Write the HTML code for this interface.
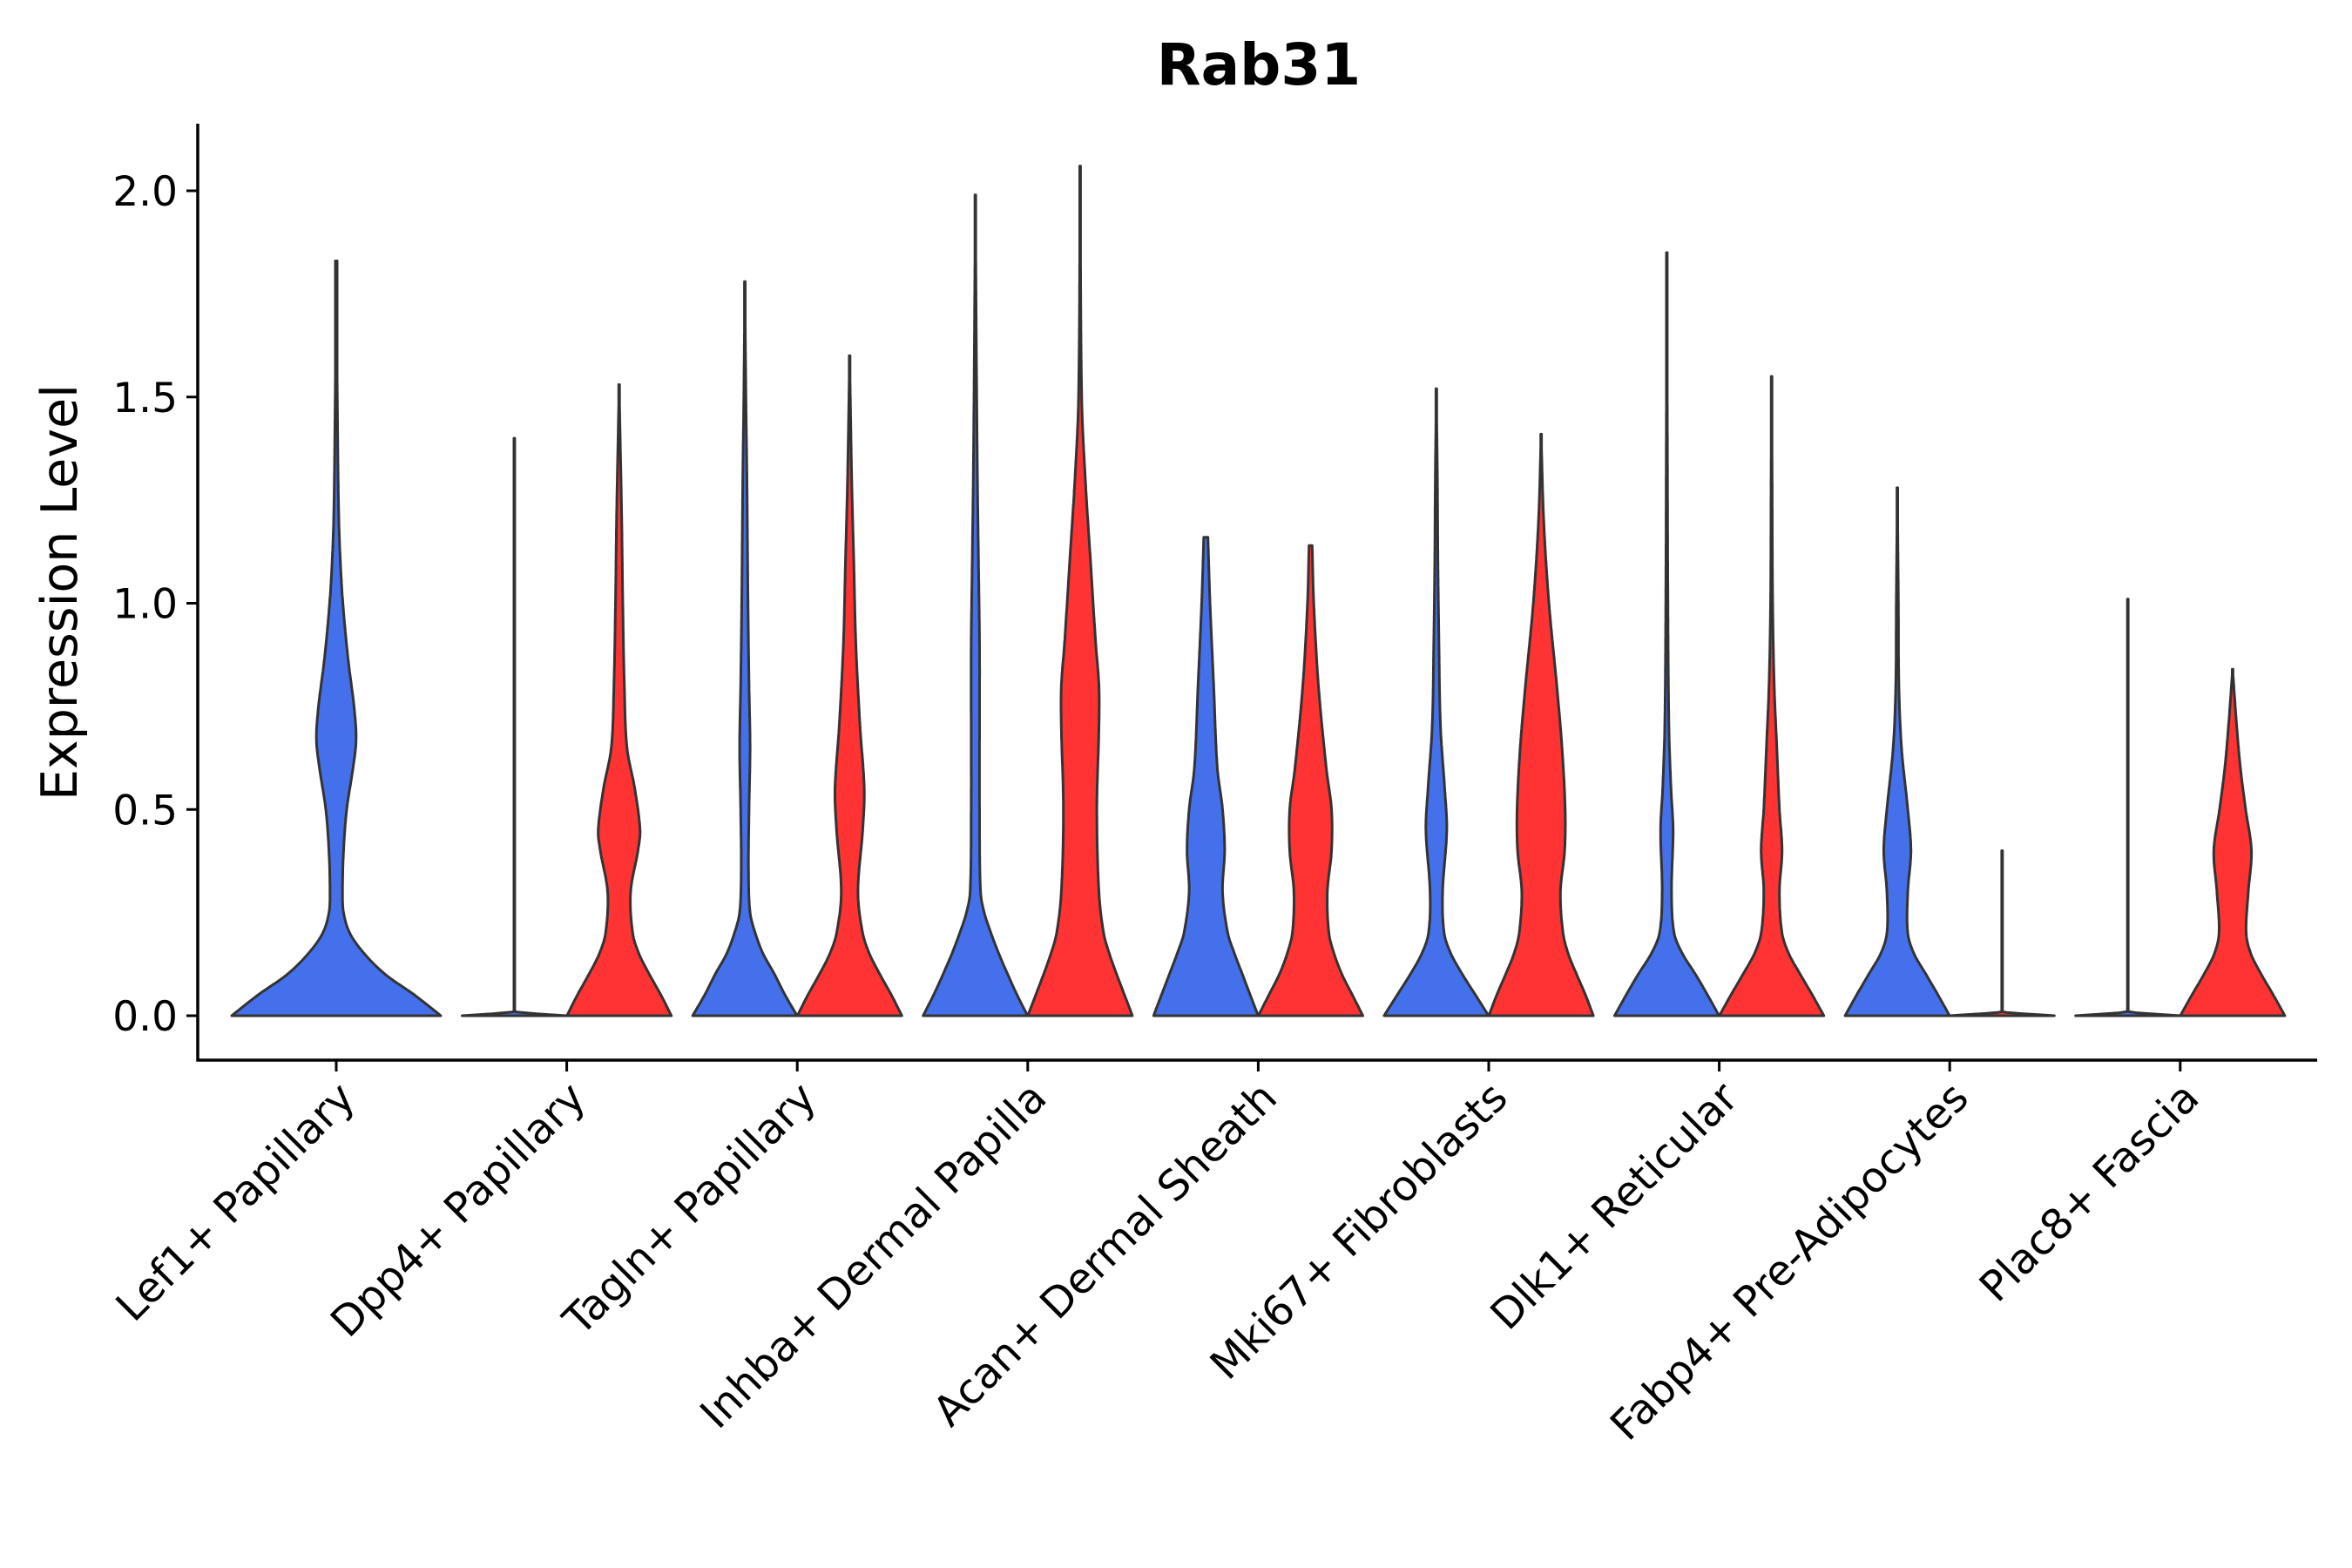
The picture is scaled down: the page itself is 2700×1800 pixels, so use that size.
<!DOCTYPE html>
<html><head><meta charset="utf-8"><style>
html,body{margin:0;padding:0;background:#fff}
svg{display:block;font-family:"DejaVu Sans","Liberation Sans",sans-serif}
</style></head><body>
<svg id="chart" width="2700" height="1800" viewBox="0 0 2700 1800">
<text x="1445" y="97" text-anchor="middle" font-size="66" font-weight="bold">Rab31</text>
<text transform="translate(88,680) rotate(-90)" text-anchor="middle" font-size="57">Expression Level</text>
<g id="plot"></g>
</svg>
<script>
const categories = ["Lef1+ Papillary","Dpp4+ Papillary","Tagln+ Papillary","Inhba+ Dermal Papilla","Acan+ Dermal Sheath","Mki67+ Fibroblasts","Dlk1+ Reticular","Fabp4+ Pre-Adipocytes","Plac8+ Fascia"];
const yTicks = [0, 0.5, 1.0, 1.5, 2.0];
const yTickLabels = ["0.0","0.5","1.0","1.5","2.0"];
// density profiles: [expression, relative width]; null = group absent
const blueProfiles = [
 [[0,1],[0.05,0.75],[0.1,0.47],[0.15,0.27],[0.2,0.13],[0.25,0.07],[0.3,0.06],[0.4,0.07],[0.5,0.1],[0.6,0.16],[0.67,0.19],[0.75,0.17],[0.85,0.12],[0.95,0.08],[1.05,0.05],[1.2,0.025],[1.5,0.01],[1.83,0]],
 [[0,1],[0.01,0.01],[1.4,0]],
 [[0,1],[0.05,0.77],[0.1,0.57],[0.15,0.35],[0.2,0.2],[0.25,0.1],[0.35,0.07],[0.5,0.08],[0.65,0.1],[0.8,0.08],[1.0,0.06],[1.3,0.04],[1.5,0.02],[1.78,0]],
 [[0,1],[0.05,0.8],[0.1,0.62],[0.15,0.45],[0.2,0.3],[0.25,0.17],[0.3,0.1],[0.5,0.08],[0.7,0.08],[0.9,0.08],[1.1,0.06],[1.3,0.04],[1.6,0.02],[1.99,0]],
 [[0,1],[0.05,0.85],[0.1,0.7],[0.15,0.55],[0.2,0.42],[0.3,0.32],[0.4,0.36],[0.5,0.32],[0.6,0.22],[0.8,0.15],[1.0,0.08],[1.16,0.04]],
 [[0,1],[0.05,0.75],[0.1,0.5],[0.15,0.28],[0.2,0.15],[0.3,0.12],[0.45,0.2],[0.55,0.16],[0.7,0.08],[0.9,0.05],[1.1,0.03],[1.3,0.02],[1.52,0]],
 [[0,1],[0.05,0.78],[0.1,0.55],[0.15,0.3],[0.2,0.14],[0.3,0.09],[0.45,0.12],[0.55,0.08],[0.7,0.04],[1.0,0.02],[1.4,0.01],[1.85,0]],
 [[0,1],[0.05,0.78],[0.1,0.55],[0.15,0.32],[0.2,0.2],[0.3,0.2],[0.4,0.26],[0.5,0.2],[0.65,0.08],[0.8,0.03],[1.0,0.02],[1.28,0]],
 [[0,1],[0.01,0.01],[1.01,0]]
];
const redProfiles = [
 null,
 [[0,1],[0.05,0.8],[0.1,0.58],[0.15,0.38],[0.2,0.26],[0.3,0.22],[0.4,0.36],[0.45,0.4],[0.55,0.3],[0.65,0.15],[0.8,0.1],[1.0,0.07],[1.2,0.05],[1.4,0.02],[1.53,0]],
 [[0,1],[0.05,0.8],[0.1,0.58],[0.15,0.38],[0.2,0.25],[0.3,0.16],[0.45,0.25],[0.55,0.28],[0.7,0.2],[0.9,0.12],[1.1,0.08],[1.3,0.04],[1.6,0]],
 [[0,1],[0.05,0.85],[0.1,0.7],[0.15,0.56],[0.2,0.45],[0.3,0.36],[0.5,0.32],[0.7,0.36],[0.8,0.36],[0.9,0.3],[1.1,0.2],[1.3,0.1],[1.5,0.03],[2.06,0]],
 [[0,1],[0.05,0.8],[0.1,0.6],[0.15,0.45],[0.2,0.35],[0.3,0.32],[0.4,0.4],[0.5,0.4],[0.6,0.3],[0.8,0.15],[1.0,0.06],[1.14,0.03]],
 [[0,1],[0.05,0.85],[0.1,0.68],[0.15,0.52],[0.2,0.42],[0.3,0.37],[0.4,0.45],[0.5,0.46],[0.65,0.4],[0.8,0.3],[1.0,0.15],[1.2,0.05],[1.41,0]],
 [[0,1],[0.05,0.78],[0.1,0.55],[0.15,0.33],[0.2,0.2],[0.3,0.15],[0.4,0.2],[0.5,0.15],[0.65,0.1],[0.8,0.05],[1.0,0.02],[1.3,0.01],[1.55,0]],
 [[0,1],[0.01,0.01],[0.4,0]],
 [[0,1],[0.05,0.78],[0.1,0.55],[0.15,0.35],[0.2,0.26],[0.3,0.3],[0.4,0.36],[0.5,0.25],[0.6,0.15],[0.7,0.08],[0.84,0]]
];

const NS='http://www.w3.org/2000/svg';
const plot=document.getElementById('plot');
const X0=227, X1=2660, Y0=1166, Y2=219, AXB=1217;
const yScale=v=>Y0+(Y2-Y0)*v/2;
const first=386, step=264.6;
const xScale=i=>first+i*step;
const HW=60;

function mk(tag,attrs){const e=document.createElementNS(NS,tag);for(const k in attrs)e.setAttribute(k,attrs[k]);plot.appendChild(e);return e;}

// Catmull-Rom interpolation of width vs expression
function interp(pts){
 const n=pts.length;
 return x=>{
  let i=0;while(i<n-2&&x>pts[i+1][0])i++;
  const p0=pts[Math.max(0,i-1)],p1=pts[i],p2=pts[i+1],p3=pts[Math.min(n-1,i+2)];
  const h=p2[0]-p1[0],t=(x-p1[0])/h;
  const m1=(p2[1]-p0[1])/(p2[0]-p0[0]||1)*h, m2=(p3[1]-p1[1])/(p3[0]-p1[0]||1)*h;
  const t2=t*t,t3=t2*t;
  return (2*t3-3*t2+1)*p1[1]+(t3-2*t2+t)*m1+(-2*t3+3*t2)*p2[1]+(t3-t2)*m2;
 };
}

function violin(cx,hw,prof,color,name){
 const f=interp(prof),maxV=prof[prof.length-1][0];
 const N=300,right=[],left=[];
 for(let k=0;k<=N;k++){const v=maxV*k/N;let w=Math.min(1,Math.max(0.008,f(v)));const y=yScale(v);right.push([cx+w*hw,y]);left.push([cx-w*hw,y]);}
 const pts=right.concat(left.reverse());
 const d='M'+pts.map(p=>p[0].toFixed(1)+','+p[1].toFixed(1)).join('L')+'Z';
 const p=mk('path',{d:d,fill:color,stroke:'#333','stroke-width':3,'stroke-linejoin':'round'});
 
 
}

categories.forEach((c,i)=>{
 const cx=xScale(i);
 const r=redProfiles[i],b=blueProfiles[i];
 if(!r){violin(cx,HW*2,b,'#4570EB','violin-blue-'+i);}
 else{violin(cx-step/4.4,HW,b,'#4570EB','violin-blue-'+i);violin(cx+step/4.4,HW,r,'#FF3333','violin-red-'+i);}
 const t=mk('line',{x1:cx,x2:cx,y1:AXB,y2:AXB+13,stroke:'#000','stroke-width':3});
 
 
 const lb=mk('text',{x:0,y:0,'font-size':48,'text-anchor':'end',transform:'translate('+(cx+24)+','+(AXB+46)+') rotate(-45)'});
 lb.textContent=c;
 
 
});

yTicks.forEach((v,i)=>{
 const y=yScale(v);
 const t=mk('line',{x1:X0-13,x2:X0,y1:y,y2:y,stroke:'#000','stroke-width':3});
 
 
 const lb=mk('text',{x:X0-23,y:y+17,'font-size':47,'text-anchor':'end'});
 lb.textContent=yTickLabels[i];
 
 
});
const ya=mk('line',{x1:X0,x2:X0,y1:142,y2:AXB+1.5,stroke:'#000','stroke-width':3.5});


const xa=mk('line',{x1:X0-1.5,x2:X1,y1:AXB,y2:AXB,stroke:'#000','stroke-width':3.5});


</script>
</body></html>
